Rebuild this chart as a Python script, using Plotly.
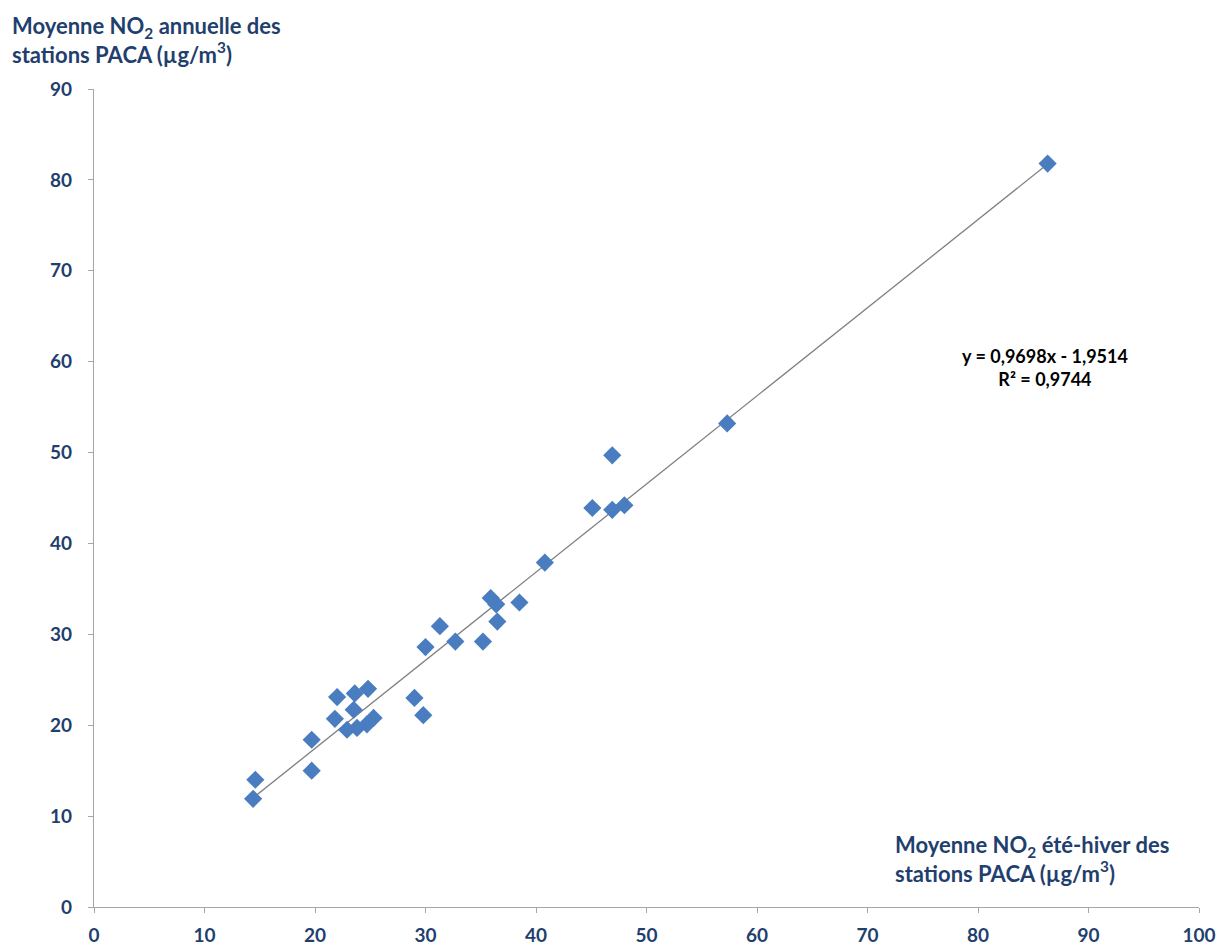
import plotly.graph_objects as go

# Moyennes NO2 par station (µg/m3)
ete_hiver = [14.4, 14.6, 19.7, 19.7, 21.8, 22.0, 22.9, 23.5, 23.6, 23.8,
             24.7, 24.8, 25.3, 29.0, 29.8, 30.0, 31.3, 32.7, 35.2, 35.9,
             36.4, 36.5, 38.5, 40.8, 45.1, 46.9, 46.9, 48.0, 57.3, 86.3]
annuelle = [11.9, 14.0, 15.0, 18.4, 20.7, 23.1, 19.5, 21.7, 23.5, 19.7,
            20.1, 24.0, 20.8, 23.0, 21.1, 28.6, 30.9, 29.2, 29.2, 34.0,
            33.3, 31.4, 33.5, 37.9, 43.9, 49.7, 43.7, 44.2, 53.2, 81.8]

# Régression linéaire affichée
pente = 0.9698
ordonnee = -1.9514
r2 = 0.9744

x_ticks = list(range(0, 101, 10))
y_ticks = list(range(0, 91, 10))

FONT = "Lato"
BLEU_TEXTE = "#1F3F6E"
GRIS_AXE = "#A6A6A6"

x_min, x_max = min(ete_hiver), max(ete_hiver)
tend_x = [x_min, x_max]
tend_y = [pente * v + ordonnee for v in tend_x]

fig = go.Figure()
fig.add_trace(go.Scatter(
    x=tend_x, y=tend_y, mode="lines",
    line=dict(color="#7F7F7F", width=1.3),
    showlegend=False, hoverinfo="skip",
))
fig.add_trace(go.Scatter(
    x=ete_hiver, y=annuelle, mode="markers",
    marker=dict(symbol="diamond", size=14, color="#4A7DC0",
                line=dict(width=0)),
    showlegend=False,
))

fig.add_annotation(
    x=86.1, y=59.4, xref="x", yref="y",
    text=f"y = {pente:.4f}x - {abs(ordonnee):.4f}".replace(".", ",")
         + "<br>R² = " + f"{r2:.4f}".replace(".", ","),
    showarrow=False, align="center",
    font=dict(family=FONT, size=18, color="#000000", weight="bold"),
)

fig.add_annotation(
    x=-0.076, y=1.096, xref="paper", yref="paper",
    xanchor="left", yanchor="top", align="left",
    text="Moyenne NO<sub>2</sub> annuelle des<br>stations PACA (µg/m<sup>3</sup>)",
    showarrow=False,
    font=dict(family=FONT, size=22, color=BLEU_TEXTE, weight="bold"),
)

fig.add_annotation(
    x=0.723, y=0.095, xref="paper", yref="paper",
    xanchor="left", yanchor="top", align="left",
    text="Moyenne NO<sub>2</sub> été-hiver des<br>stations PACA (µg/m<sup>3</sup>)",
    showarrow=False,
    font=dict(family=FONT, size=22, color=BLEU_TEXTE, weight="bold"),
)

axis_common = dict(
    showgrid=False, zeroline=False, showline=True, automargin=False,
    linecolor=GRIS_AXE, linewidth=1.2,
    ticks="outside", ticklen=5, tickcolor=GRIS_AXE, tickwidth=1.2,
    tickfont=dict(family=FONT, size=19, color=BLEU_TEXTE, weight="bold"),
)

fig.update_xaxes(range=[0, 100], tickvals=x_ticks, ticklabelstandoff=6,
                 **axis_common)
fig.update_yaxes(range=[0, 90], tickvals=y_ticks, ticklabelstandoff=12,
                 **axis_common)

fig.update_layout(
    width=1219, height=948,
    margin=dict(l=94, r=20, t=89, b=41),
    plot_bgcolor="white", paper_bgcolor="white",
)

fig.write_html("out.html")
